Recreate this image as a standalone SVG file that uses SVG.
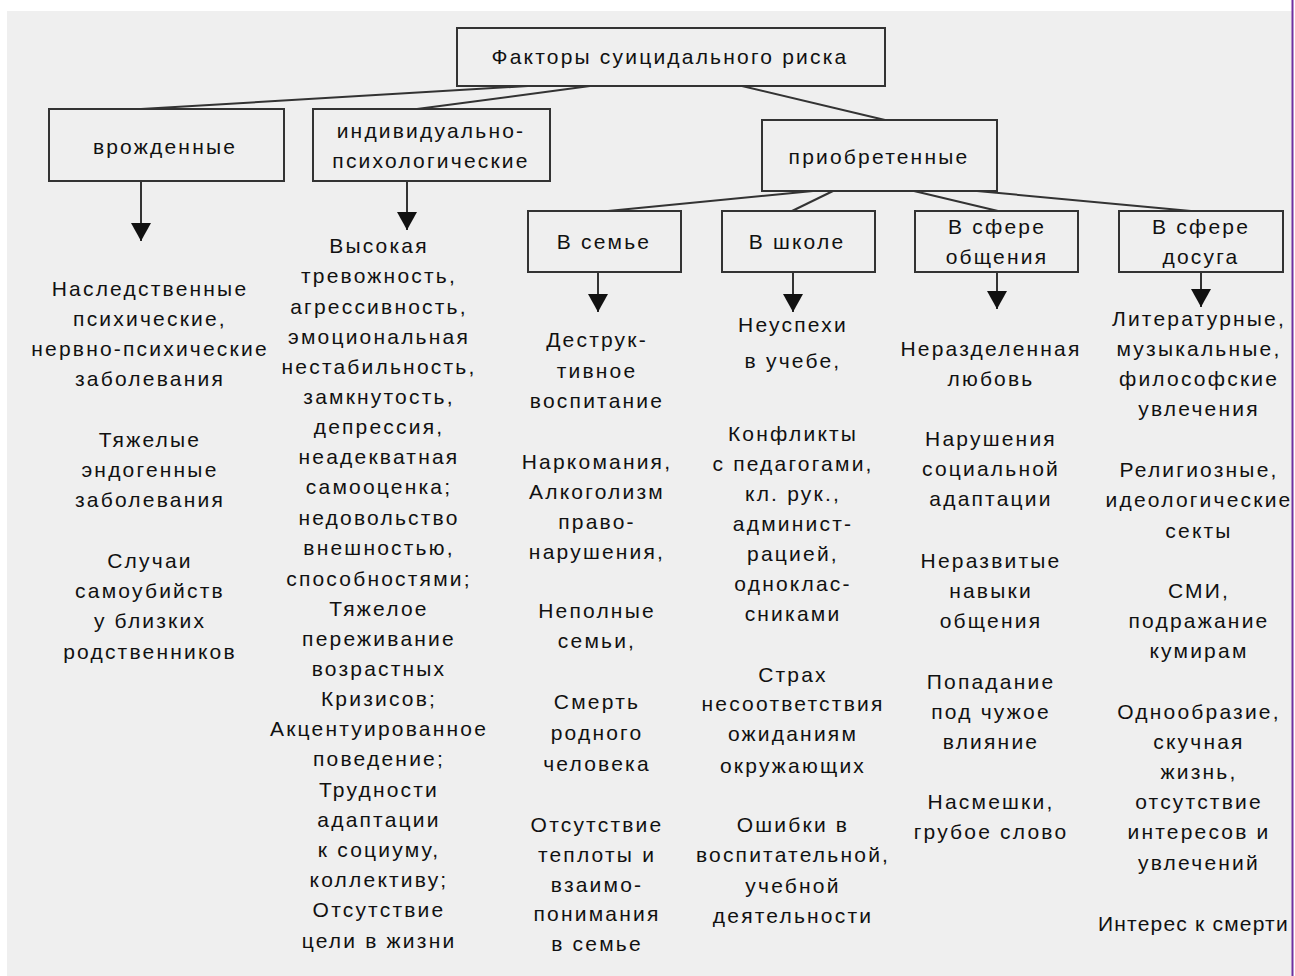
<svg xmlns="http://www.w3.org/2000/svg" width="1295" height="976" viewBox="0 0 1295 976">
<style>
.box{fill:#efefef;stroke:#333;stroke-width:2}
.t{font-family:"Liberation Sans",Arial,sans-serif;font-size:21px;letter-spacing:2.2px;fill:#111;text-anchor:middle}
.c{stroke:#333;stroke-width:2;fill:none}
.a{stroke:#333;stroke-width:2;fill:none;marker-end:url(#ah)}
</style>
<defs>
<marker id="ah" viewBox="0 0 18 20" refX="18" refY="10" markerWidth="18" markerHeight="20" markerUnits="userSpaceOnUse" orient="auto">
<path d="M0,0 L18,10 L0,20 Z" fill="#111"/>
</marker>
</defs>
<rect x="0" y="0" width="1295" height="976" fill="#ffffff"/>
<rect x="7" y="11" width="1285" height="965" fill="#efefef"/>
<line x1="1292.5" y1="0" x2="1292.5" y2="976" stroke="#7030a0" stroke-width="2"/>

<g id="connectors">
<line class="c" x1="528" y1="86" x2="141" y2="109"/>
<line class="c" x1="590" y1="86" x2="417" y2="109"/>
<line class="c" x1="742" y1="86" x2="885" y2="120"/>
<line class="c" x1="813" y1="191" x2="608" y2="211"/>
<line class="c" x1="833" y1="191" x2="792" y2="211"/>
<line class="c" x1="914" y1="191" x2="998" y2="211"/>
<line class="c" x1="977" y1="191" x2="1191" y2="211"/>
<line class="a" x1="141" y1="181" x2="141" y2="241"/>
<line class="a" x1="407" y1="181" x2="407" y2="230"/>
<line class="a" x1="598" y1="272" x2="598" y2="312"/>
<line class="a" x1="793" y1="272" x2="793" y2="312"/>
<line class="a" x1="997" y1="272" x2="997" y2="309"/>
<line class="a" x1="1201" y1="272" x2="1201" y2="307"/>
</g>

<g id="root">
<rect class="box" x="457" y="28" width="428" height="58"/>
<text class="t" x="670" y="64">Факторы суицидального риска</text>
</g>
<g id="innate">
<rect class="box" x="49" y="109" width="235" height="72"/>
<text class="t" x="165" y="154">врожденные</text>
</g>
<g id="individual">
<rect class="box" x="313" y="109" width="237" height="72"/>
<text class="t" x="431" y="138">индивидуально-</text>
<text class="t" x="431" y="168">психологические</text>
</g>
<g id="acquired">
<rect class="box" x="762" y="120" width="235" height="71"/>
<text class="t" x="879" y="164">приобретенные</text>
</g>
<g id="family">
<rect class="box" x="528" y="211" width="153" height="61"/>
<text class="t" x="604" y="249">В семье</text>
</g>
<g id="school">
<rect class="box" x="722" y="211" width="153" height="61"/>
<text class="t" x="797" y="249">В школе</text>
</g>
<g id="communication">
<rect class="box" x="915" y="211" width="163" height="61"/>
<text class="t" x="997" y="234">В сфере</text>
<text class="t" x="997" y="264">общения</text>
</g>
<g id="leisure">
<rect class="box" x="1119" y="211" width="164" height="61"/>
<text class="t" x="1201" y="234">В сфере</text>
<text class="t" x="1201" y="264">досуга</text>
</g>

<g id="innate-list">
<text class="t" x="150" y="296">Наследственные</text>
<text class="t" x="150" y="326">психические,</text>
<text class="t" x="150" y="356">нервно-психические</text>
<text class="t" x="150" y="386">заболевания</text>
<text class="t" x="150" y="447">Тяжелые</text>
<text class="t" x="150" y="477">эндогенные</text>
<text class="t" x="150" y="507">заболевания</text>
<text class="t" x="150" y="568">Случаи</text>
<text class="t" x="150" y="598">самоубийств</text>
<text class="t" x="150" y="628">у близких</text>
<text class="t" x="150" y="659">родственников</text>
</g>

<g id="individual-list">
<text class="t" x="379" y="253">Высокая</text>
<text class="t" x="379" y="283">тревожность,</text>
<text class="t" x="379" y="314">агрессивность,</text>
<text class="t" x="379" y="344">эмоциональная</text>
<text class="t" x="379" y="374">нестабильность,</text>
<text class="t" x="379" y="404">замкнутость,</text>
<text class="t" x="379" y="434">депрессия,</text>
<text class="t" x="379" y="464">неадекватная</text>
<text class="t" x="379" y="494">самооценка;</text>
<text class="t" x="379" y="525">недовольство</text>
<text class="t" x="379" y="555">внешностью,</text>
<text class="t" x="379" y="586">способностями;</text>
<text class="t" x="379" y="616">Тяжелое</text>
<text class="t" x="379" y="646">переживание</text>
<text class="t" x="379" y="676">возрастных</text>
<text class="t" x="379" y="706">Кризисов;</text>
<text class="t" x="379" y="736">Акцентуированное</text>
<text class="t" x="379" y="766">поведение;</text>
<text class="t" x="379" y="797">Трудности</text>
<text class="t" x="379" y="827">адаптации</text>
<text class="t" x="379" y="857">к социуму,</text>
<text class="t" x="379" y="887">коллективу;</text>
<text class="t" x="379" y="917">Отсутствие</text>
<text class="t" x="379" y="948">цели в жизни</text>
</g>

<g id="family-list">
<text class="t" x="597" y="347">Деструк-</text>
<text class="t" x="597" y="378">тивное</text>
<text class="t" x="597" y="408">воспитание</text>
<text class="t" x="597" y="469">Наркомания,</text>
<text class="t" x="597" y="499">Алкоголизм</text>
<text class="t" x="597" y="529">право-</text>
<text class="t" x="597" y="559">нарушения,</text>
<text class="t" x="597" y="618">Неполные</text>
<text class="t" x="597" y="648">семьи,</text>
<text class="t" x="597" y="709">Смерть</text>
<text class="t" x="597" y="740">родного</text>
<text class="t" x="597" y="771">человека</text>
<text class="t" x="597" y="832">Отсутствие</text>
<text class="t" x="597" y="862">теплоты и</text>
<text class="t" x="597" y="892">взаимо-</text>
<text class="t" x="597" y="921">понимания</text>
<text class="t" x="597" y="951">в семье</text>
</g>

<g id="school-list">
<text class="t" x="793" y="332">Неуспехи</text>
<text class="t" x="793" y="368">в учебе,</text>
<text class="t" x="793" y="441">Конфликты</text>
<text class="t" x="793" y="471">с педагогами,</text>
<text class="t" x="793" y="501">кл. рук.,</text>
<text class="t" x="793" y="531">админист-</text>
<text class="t" x="793" y="561">рацией,</text>
<text class="t" x="793" y="591">одноклас-</text>
<text class="t" x="793" y="621">сниками</text>
<text class="t" x="793" y="682">Страх</text>
<text class="t" x="793" y="711">несоответствия</text>
<text class="t" x="793" y="741">ожиданиям</text>
<text class="t" x="793" y="773">окружающих</text>
<text class="t" x="793" y="832">Ошибки в</text>
<text class="t" x="793" y="862">воспитательной,</text>
<text class="t" x="793" y="893">учебной</text>
<text class="t" x="793" y="923">деятельности</text>
</g>

<g id="communication-list">
<text class="t" x="991" y="356">Неразделенная</text>
<text class="t" x="991" y="386">любовь</text>
<text class="t" x="991" y="446">Нарушения</text>
<text class="t" x="991" y="476">социальной</text>
<text class="t" x="991" y="506">адаптации</text>
<text class="t" x="991" y="568">Неразвитые</text>
<text class="t" x="991" y="598">навыки</text>
<text class="t" x="991" y="628">общения</text>
<text class="t" x="991" y="689">Попадание</text>
<text class="t" x="991" y="719">под чужое</text>
<text class="t" x="991" y="749">влияние</text>
<text class="t" x="991" y="809">Насмешки,</text>
<text class="t" x="991" y="839">грубое слово</text>
</g>

<g id="leisure-list">
<text class="t" x="1199" y="326">Литературные,</text>
<text class="t" x="1199" y="356">музыкальные,</text>
<text class="t" x="1199" y="386">философские</text>
<text class="t" x="1199" y="416">увлечения</text>
<text class="t" x="1199" y="477">Религиозные,</text>
<text class="t" x="1199" y="507">идеологические</text>
<text class="t" x="1199" y="538">секты</text>
<text class="t" x="1199" y="598">СМИ,</text>
<text class="t" x="1199" y="628">подражание</text>
<text class="t" x="1199" y="658">кумирам</text>
<text class="t" x="1199" y="719">Однообразие,</text>
<text class="t" x="1199" y="749">скучная</text>
<text class="t" x="1199" y="779">жизнь,</text>
<text class="t" x="1199" y="809">отсутствие</text>
<text class="t" x="1199" y="839">интересов и</text>
<text class="t" x="1199" y="870">увлечений</text>
<text class="t" x="1098" y="931" style="text-anchor:start;letter-spacing:1.2px">Интерес к смерти</text>
</g>
</svg>
